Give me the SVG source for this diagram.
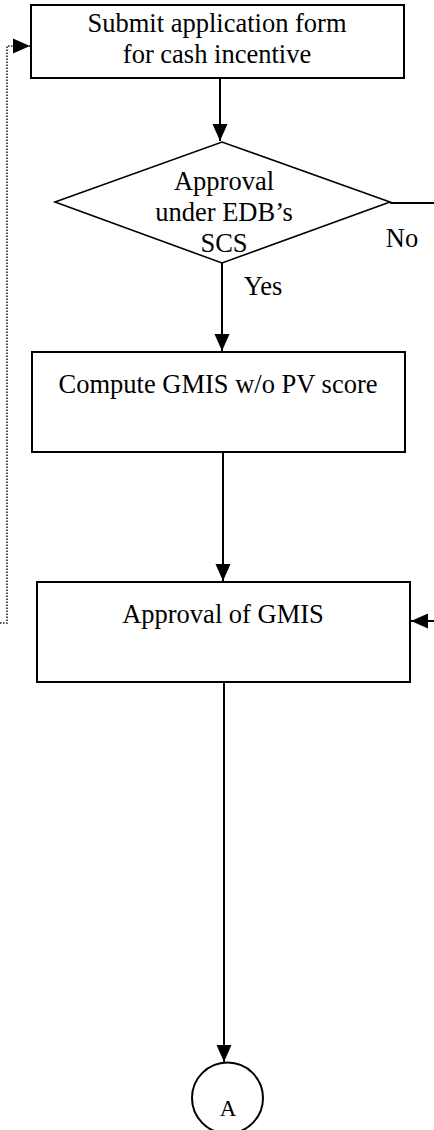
<svg xmlns="http://www.w3.org/2000/svg" width="434" height="1130" viewBox="0 0 434 1130">
<style>
.box{fill:#fff;stroke:#000;stroke-width:2}
.dia{fill:#fff;stroke:#000;stroke-width:1.6}
.ln{fill:none;stroke:#000;stroke-width:2}
.dot{fill:none;stroke:#222;stroke-width:1.6;stroke-dasharray:1.5 1.5}
text{font-family:"Liberation Serif","Times New Roman",serif;font-size:26.5px;fill:#000;text-anchor:middle}
</style>
<defs>
<marker id="ah" markerUnits="userSpaceOnUse" markerWidth="17" markerHeight="16" refX="17" refY="7.5" orient="auto" viewBox="0 0 17 15">
<path d="M0,0 L17,7.5 L0,15 z" fill="#000"/>
</marker>
</defs>
<g id="connectors">
<line class="ln" x1="220" y1="78" x2="220" y2="141" marker-end="url(#ah)"/>
<line class="ln" x1="222" y1="263" x2="222" y2="351" marker-end="url(#ah)"/>
<line class="ln" x1="223" y1="453" x2="223" y2="581" marker-end="url(#ah)"/>
<line class="ln" x1="224" y1="683" x2="224" y2="1062" marker-end="url(#ah)"/>
<line class="ln" x1="390" y1="203" x2="434" y2="203"/>
<line class="ln" x1="434" y1="621" x2="411" y2="621" marker-end="url(#ah)"/>
<path class="dot" d="M0,623 H7 V46 H30" marker-end="url(#ah)"/>
<text x="402" y="247">No</text>
<text x="263" y="295">Yes</text>
</g>
<g id="submit">
<rect class="box" x="31" y="5" width="373" height="73"/>
<text x="217" y="32">Submit application form</text>
<text x="217" y="63">for cash incentive</text>
</g>
<g id="approval-scs">
<polygon class="dia" points="55,202 222,142 390,202 222,263"/>
<text x="224" y="190">Approval</text>
<text x="224" y="221">under EDB’s</text>
<text x="224" y="252">SCS</text>
</g>
<g id="compute">
<rect class="box" x="32" y="352" width="373" height="100"/>
<text x="218" y="393">Compute GMIS w/o PV score</text>
</g>
<g id="approval-gmis">
<rect class="box" x="37" y="582" width="373" height="100"/>
<text x="223" y="623">Approval of GMIS</text>
</g>
<g id="connector-a">
<circle class="box" cx="227.5" cy="1098" r="35.5"/>
<text x="228" y="1116" style="font-size:23px">A</text>
</g>
</svg>
